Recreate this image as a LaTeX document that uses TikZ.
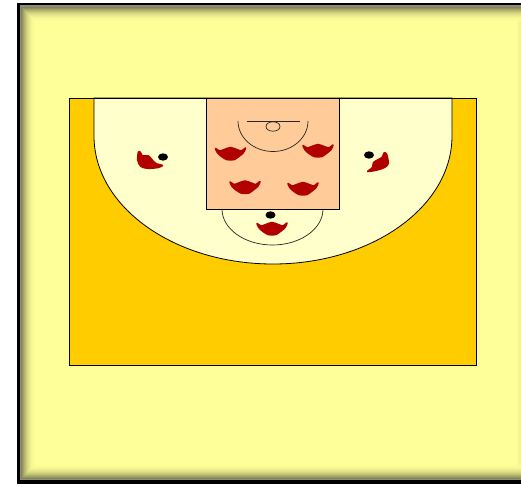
\documentclass[tikz,border=0pt]{standalone}
\usepackage{xcolor}
\definecolor{pageyellow}{HTML}{FFFF99}
\definecolor{courtgold}{HTML}{FFCC00}
\definecolor{zonecream}{HTML}{FFFFCC}
\definecolor{keypeach}{HTML}{FFCC99}
\definecolor{playerred}{HTML}{B00000}
\tikzset{
  courtline/.style={draw=black,line width=0.8pt},
  markline/.style={draw=black!85,line width=0.7pt},
  playerfill/.style={fill=playerred,draw=playerred,line width=1.5pt,line join=round},
  playerbody/.pic={
    \path[playerfill] plot[smooth cycle,tension=0.5] coordinates {(-15,-4.5) (-11,-2) (-7,-3.2) (0,-5.5) (7,-3.2) (11,-2) (15,-5) (13,-0.5) (9,3) (4,6.5) (0,7) (-4,6.5) (-9,3.5) (-13,-0.2)};
  }
}
\begin{document}
\begin{tikzpicture}[x=1pt,y=-1pt]
  \useasboundingbox (0,0) rectangle (521,487);
  \clip (0,0) rectangle (521,487);
  % frame
  \fill[black] (17,3.5) rectangle (524,484);
  \fill[black!45] (19.5,5.5) rectangle (524,480);
  \foreach \i in {0,...,13}{
    \pgfmathtruncatemacro{\shade}{100-48*(1-\i/14)*(1-\i/14)}
    \fill[pageyellow!\shade!black] (21+\i,7+\i) rectangle (524,478.5-\i);
  }
  \fill[pageyellow] (35,21) rectangle (524,465);
  \fill[pageyellow!96!black] (518,21) rectangle (521,465);
  % court
  \fill[courtgold,courtline] (69,98) rectangle (476.5,365);
  \fill[zonecream,courtline] (94,98) -- (94,136) arc[start angle=180,end angle=360,x radius=179pt,y radius=128pt] -- (452,98) -- cycle;
  \draw[courtline] (69,98) -- (476.5,98);
  \fill[keypeach,courtline] (206,98) rectangle (339.5,209);
  \draw[markline] (222,209) arc[start angle=180,end angle=360,x radius=50.5pt,y radius=36pt];
  % basket
  \draw[markline] (246.5,121.5) -- (299.5,121.5);
  \draw[markline] (273,126.5) ellipse (7pt and 4.7pt);
  \draw[markline] (238,121) arc[start angle=180,end angle=360,x radius=35pt,y radius=30.5pt];
  % players
  \foreach \x/\y in {230.5/153,318/150,245/186.5,303/188,272/228}{
    \pic at (\x,\y) {playerbody};
  }
  \path[playerfill] plot[smooth cycle,tension=0.5] coordinates {(138.5,152) (140.5,152.5) (142.5,156) (148.5,156) (153,161) (157,164) (162.5,165.5) (158,167.5) (148.3,168.3) (141,166.5) (137.7,160)};
  \path[playerfill] plot[smooth cycle,tension=0.5] coordinates {(384,153) (386.5,154) (388.3,163.3) (384.5,167.5) (377,170) (367.7,171.5) (372.5,167.5) (373.5,162.5) (378.5,159.5) (382.5,157)};
  % balls
  \foreach \x/\y in {270.5/215,163/157,369/155}{
    \fill[black] (\x,\y) ellipse (5pt and 3.7pt);
  }
\end{tikzpicture}
\end{document}
